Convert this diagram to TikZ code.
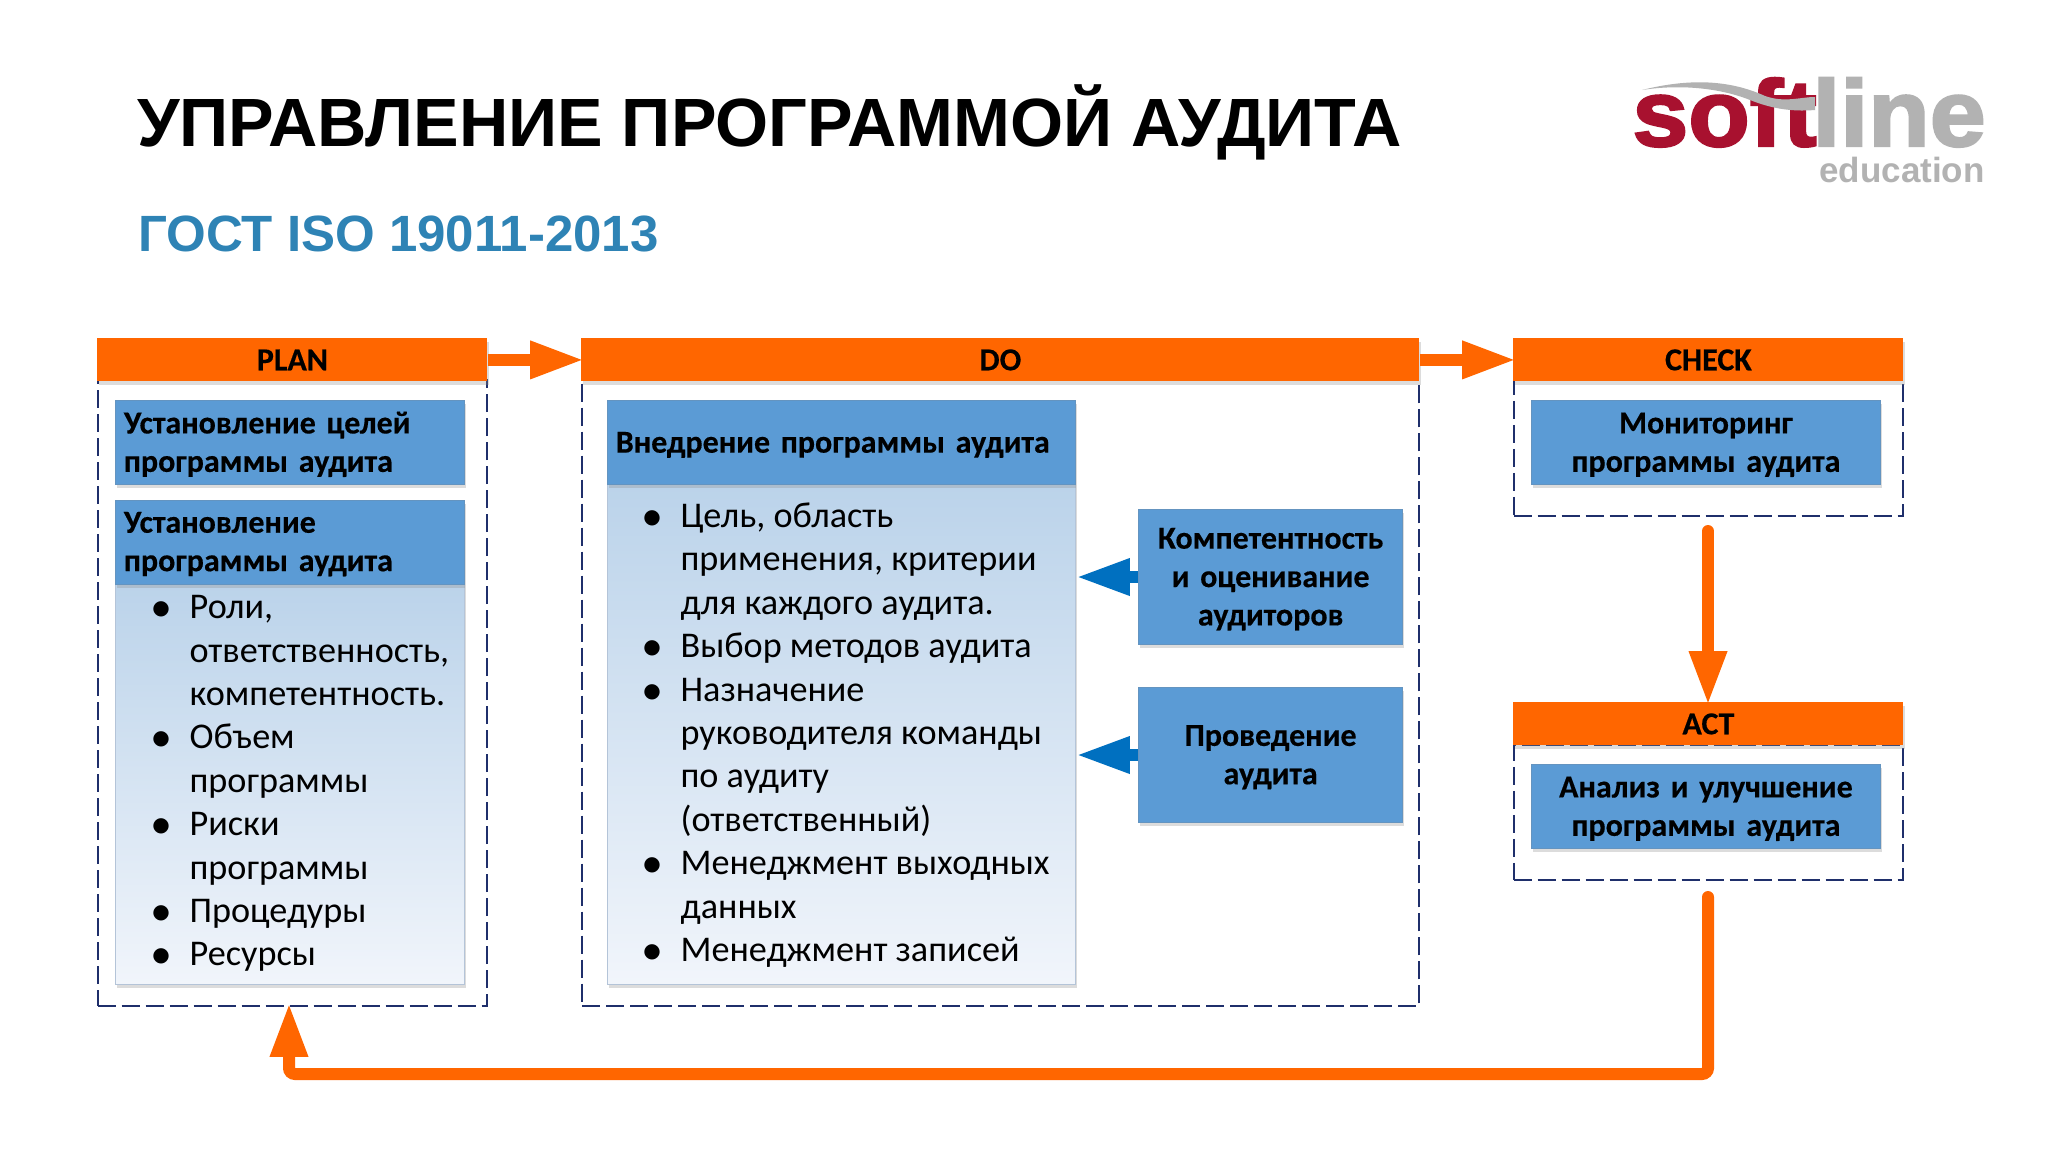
\documentclass[tikz,border=0pt]{standalone}
\usepackage{fontspec}
\setmainfont[BoldFeatures={FakeBold=0.35}]{Carlito}
\newfontfamily\arialf{Liberation Sans}
\newfontfamily\logof[FakeBold=2.5,FakeStretch=1.07]{Liberation Sans Bold}
\newfontfamily\dvf{DejaVu Sans}
\usetikzlibrary{arrows.meta,shadows,positioning}
\definecolor{hdr}{HTML}{FF6600}
\definecolor{blu}{HTML}{5B9BD5}
\definecolor{navy}{HTML}{1F2F6B}
\definecolor{arblue}{HTML}{0070C0}
\definecolor{subt}{HTML}{2E83B5}
\definecolor{logored}{HTML}{A8112F}
\definecolor{logogrey}{HTML}{B2B2B2}
\definecolor{listtop}{HTML}{BBD3EA}
\definecolor{listbot}{HTML}{F1F5FB}
\definecolor{listedge}{HTML}{B4C4D8}
\newcommand{\bl}[1]{\makebox[17.6pt][l]{\hspace*{-1pt}\fontsize{10}{10}\dvf\raisebox{2pt}{●}}#1}
\newcommand{\ct}[1]{\hspace*{17.6pt}#1}
\tikzset{
  softshadow/.style={drop shadow={shadow xshift=.6pt,shadow yshift=-1.8pt,fill=black!45,opacity=.3}},
  headerbar/.style={anchor=north west,fill=hdr,inner sep=0pt,font=\fontsize{16}{19}\selectfont\bfseries,text=black,softshadow},
  panel/.style={anchor=north west,draw=navy,line width=1pt,dash pattern=on 9pt off 3pt,inner sep=0pt},
  bluebox/.style={anchor=north west,fill=blu,draw=blu!75!gray,line width=.4pt,inner xsep=4.2pt,inner ysep=3.5pt,font=\fontsize{16}{19.2}\selectfont\bfseries,text=black,softshadow,execute at begin node={\rule{0pt}{12.6pt}}},
  listbox/.style={anchor=north west,top color=listtop,bottom color=listbot,draw=listedge,line width=.4pt,inner sep=0pt,softshadow},
  listtext/.style={anchor=north west,inner sep=0pt,align=left,font=\fontsize{18.1}{21.7}\selectfont,text=black},
  orangearrow/.style={draw=hdr,line width=6pt,shorten >=-1.6pt,-{Triangle[length=27pt,width=17.5pt]}},
  bluearrow/.style={draw=arblue,line width=6pt,-{Triangle[length=27pt,width=17pt]}}
}
\begin{document}
\begin{tikzpicture}[x=.5pt,y=-.5pt]
\useasboundingbox (0,0) rectangle (2048,1152);
\fill[white] (0,0) rectangle (2048,1152);
% title
\node[anchor=base west,inner sep=0pt,font=\fontsize{34.15}{40}\arialf\bfseries] (title) at (137,146.5) {УПРАВЛЕНИЕ ПРОГРАММОЙ АУДИТА};
\node[anchor=base west,inner sep=0pt,font=\fontsize{25.5}{30}\arialf\bfseries,text=subt] (subtitle) at (138,251.5) {ГОСТ ISO 19011-2013};
% logo
\node[anchor=base west,inner sep=0pt,font=\fontsize{47}{47}\logof,text=logored] (logosoft) at (1632,146) {soft};
\node[anchor=base west,inner sep=0pt,font=\fontsize{47}{47}\logof,text=logogrey] (logoline) at (1812,146) {line};
\node[anchor=base east,inner sep=0pt,font=\fontsize{17.5}{20}\arialf\bfseries,text=logogrey] (logoedu) at (1985,182) {education};
\fill[logogrey] (1642,90) .. controls (1690,78) and (1730,80) .. (1765,96) .. controls (1785,103) and (1800,97) .. (1815,97) -- (1815,110) .. controls (1790,112) and (1770,108) .. (1750,100) .. controls (1720,88) and (1680,84) .. (1642,90) -- cycle;
% panels
\node[panel,minimum width=194.8pt,minimum height=313.2pt] (planp) at (96.5,379) {};
\node[panel,minimum width=418.5pt,minimum height=313.2pt] (dop) at (581,379) {};
\node[panel,minimum width=194.8pt,minimum height=68pt] (checkp) at (1512.5,379) {};
\node[panel,minimum width=194.8pt,minimum height=67.5pt] (actp) at (1512.5,744) {};
% headers
\node[headerbar,minimum width=195pt,minimum height=21.5pt] (plan) at (97,338) {PLAN};
\node[headerbar,minimum width=419pt,minimum height=21.5pt] (do) at (581,338) {DO};
\node[headerbar,minimum width=195pt,minimum height=21.5pt] (check) at (1513,338) {CHECK};
\node[headerbar,minimum width=195pt,minimum height=21.5pt] (act) at (1513,702) {ACT};
% plan boxes
\node[bluebox,minimum width=174.5pt,minimum height=42.2pt,text width=166pt,align=left] (plan1) at (115,400) {Установление целей\\программы аудита};
\node[listbox,minimum width=174.5pt,minimum height=200pt] (planl) at (115,584) {};
\node[bluebox,minimum width=174.5pt,minimum height=42pt,text width=166pt,align=left] (plan2) at (115,499.5) {Установление\\программы аудита};
\node[listtext] (plant) at (154,595) {\bl{Роли,}\\\ct{ответственность,}\\\ct{компетентность.}\\\bl{Объем}\\\ct{программы}\\\bl{Риски}\\\ct{программы}\\\bl{Процедуры}\\\bl{Ресурсы}};
% do boxes
\node[listbox,minimum width=234pt,minimum height=250pt] (dol) at (607,484) {};
\node[bluebox,minimum width=234pt,minimum height=42.2pt,text width=225.6pt,align=left] (do1) at (607,400) {Внедрение программы аудита};
\node[listtext] (dot) at (645,502.5) {\bl{Цель, область}\\\ct{применения, критерии}\\\ct{для каждого аудита.}\\\bl{Выбор методов аудита}\\\bl{Назначение}\\\ct{руководителя команды}\\\ct{по аудиту}\\\ct{(ответственный)}\\\bl{Менеджмент выходных}\\\ct{данных}\\\bl{Менеджмент записей}};
\node[bluebox,minimum width=132.2pt,minimum height=67.6pt,text width=123.8pt,align=center] (komp) at (1138,509) {Компетентность\\и оценивание\\аудиторов};
\node[bluebox,minimum width=132.2pt,minimum height=67.6pt,text width=123.8pt,align=center] (prov) at (1138,687) {Проведение\\аудита};
% check / act boxes
\node[bluebox,minimum width=174.5pt,minimum height=42.2pt,text width=166pt,align=center] (check1) at (1531,400) {Мониторинг\\программы аудита};
\node[bluebox,minimum width=174.5pt,minimum height=42.2pt,text width=166pt,align=center] (act1) at (1531,764) {Анализ и улучшение\\программы аудита};
% connectors
\coordinate (checkout) at (1708,531);
\coordinate (actout) at (1708,897);
\coordinate (bend1) at (1708,1074);
\coordinate (bend2) at (289,1074);
\coordinate (planin) at (289,1006);
\draw[orangearrow] (plan.east) -- (do.west);
\draw[orangearrow] (do.east) -- (check.west);
\draw[orangearrow,line cap=round] (checkout) -- (act.north -| checkout);
\draw[orangearrow,line cap=round,rounded corners=3pt] (actout) -- (bend1) -- (bend2) -- (planin);
\draw[bluearrow] (komp.west) -- (komp.west -| dol.east);
\draw[bluearrow] (prov.west) -- (prov.west -| dol.east);
\end{tikzpicture}
\end{document}
